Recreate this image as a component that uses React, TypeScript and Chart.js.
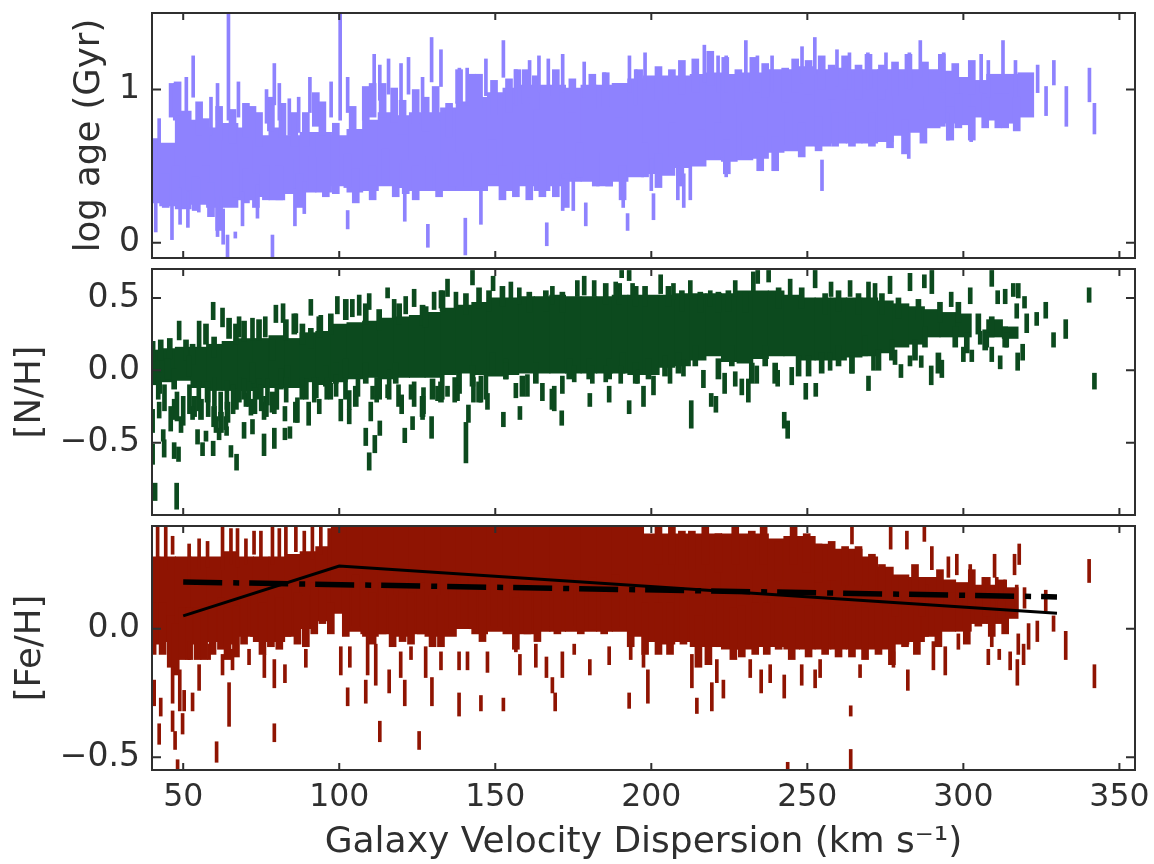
import React, { useEffect, useRef } from "react";
import { Chart, registerables } from "chart.js";

Chart.register(...registerables);

const xTicks = [50, 100, 150, 200, 250, 300, 350];
const ageTicks = [0, 1];
const ageLabels = ["0", "1"];
const nitrogenTicks = [-0.5, 0, 0.5];
const nitrogenLabels = ["\u22120.5", "0.0", "0.5"];
const ironTicks = [-0.5, 0];
const ironLabels = ["\u22120.5", "0.0"];
const xTitle = "Galaxy Velocity Dispersion (km s\u207B\u00B9)";

// dense bulk of the galaxies: [sigma, low, high]
const ageBulk = [[40,.26,.68],[45,.24,.65],[50,.22,.86],[55,.25,.8],[60,.23,.75],[65,.23,.78],[70,.28,.75],[75,.3,.7],[80,.28,.75],[85,.32,.7],[90,.33,.72],[95,.33,.72],[100,.37,.7],[105,.33,.74],[110,.34,.8],[115,.37,.85],[120,.36,.83],[125,.34,.85],[130,.34,.85],[135,.34,.88],[140,.34,.92],[145,.34,.95],[150,.37,.98],[155,.34,1.01],[160,.37,1.03],[165,.34,1.03],[170,.37,1.03],[175,.4,1.01],[180,.4,1.03],[185,.37,1.03],[190,.4,1.04],[195,.43,1.07],[200,.45,1.09],[205,.44,1.09],[210,.49,1.09],[215,.5,1.1],[220,.54,1.11],[225,.53,1.1],[230,.54,1.11],[235,.55,1.11],[240,.59,1.13],[245,.6,1.13],[250,.63,1.15],[255,.63,1.13],[260,.65,1.14],[265,.65,1.13],[270,.65,1.13],[275,.66,1.13],[280,.7,1.13],[285,.72,1.13],[290,.75,1.13],[295,.78,1.12],[300,.77,1.08],[305,.82,1.06],[310,.8,1.1],[315,.78,1.1],[320,.82,1.11]];
const ironBulk = [[40,-.06,.28],[45,-.05,.28],[50,-.1,.28],[55,-.06,.28],[60,-.05,.28],[65,-.06,.3],[70,-.03,.28],[75,-.05,.28],[80,-.05,.28],[85,-.03,.29],[90,0,.3],[95,.03,.32],[100,.06,.4],[105,-.01,.4],[110,-.03,.4],[115,-.02,.4],[120,-.03,.4],[125,-.02,.4],[130,-.03,.4],[135,-.03,.4],[140,0,.4],[145,-.02,.4],[150,-.01,.4],[155,-.02,.4],[160,-.02,.4],[165,-.01,.4],[170,-.01,.4],[175,-.01,.4],[180,-.01,.4],[185,-.01,.4],[190,-.01,.4],[195,-.03,.4],[200,-.05,.37],[205,-.06,.37],[210,-.05,.37],[215,-.07,.37],[220,-.07,.37],[225,-.08,.37],[230,-.08,.37],[235,-.07,.37],[240,-.07,.35],[245,-.08,.36],[250,-.08,.36],[255,-.08,.33],[260,-.08,.31],[265,-.08,.31],[270,-.08,.28],[275,-.08,.24],[280,-.06,.21],[285,-.05,.2],[290,-.03,.2],[295,-.01,.19],[300,-.01,.18],[305,.02,.17],[310,.02,.17],[315,.04,.16]];
const nitrogenBulk = [[40,-.1,.14],[45,-.08,.15],[50,-.07,.16],[55,-.12,.16],[60,-.14,.18],[65,-.14,.2],[70,-.14,.22],[75,-.12,.22],[80,-.12,.24],[85,-.12,.22],[90,-.08,.26],[95,-.1,.27],[100,-.08,.32],[105,-.06,.33],[110,-.05,.34],[115,-.06,.36],[120,-.05,.37],[125,-.05,.38],[130,-.05,.4],[135,-.03,.43],[140,-.02,.45],[145,-.03,.47],[150,-.04,.5],[155,-.03,.5],[160,-.02,.51],[165,-.02,.51],[170,-.02,.52],[175,-.02,.51],[180,-.02,.51],[185,-.02,.51],[190,-.02,.52],[195,-.03,.52],[200,-.03,.52],[205,.02,.52],[210,.03,.53],[215,.07,.53],[220,.1,.53],[225,.06,.53],[230,.05,.55],[235,.08,.55],[240,.1,.55],[245,.1,.52],[250,.07,.5],[255,.07,.5],[260,.07,.5],[265,.09,.5],[270,.1,.5],[275,.12,.48],[280,.16,.46],[285,.18,.44],[290,.23,.42],[295,.23,.4],[300,.23,.39],[310,.23,.35],[315,.22,.3]];

// jagged rim of the bulk: [sigma, low, high]
const ageRim = [[46.6,.82,1.04],[48.2,.83,1.05],[55.1,.7,.92],[57.3,.59,.81],[61.5,.67,.89],[65.8,.65,.87],[70.1,.69,.91],[72.2,.67,.89],[74.3,.63,.85],[78.1,.73,.95],[81.8,.69,.91],[85.6,.63,.85],[89.3,.63,.85],[92.5,.76,.98],[94.6,.7,.92],[98.9,.56,.78],[104.3,.67,.89],[108.5,.8,1.02],[110.7,.82,1.04],[113.9,.82,1.04],[117.6,.79,1.01],[120.3,.71,.93],[124.5,.78,1],[127.7,.73,.95],[130.9,.8,1.02],[135.2,.69,.91],[138.4,.91,1.13],[142.7,.88,1.1],[144.8,.88,1.1],[149.6,.84,1.06],[154.4,.85,1.07],[157.1,.91,1.13],[159.8,.91,1.13],[163,.87,1.09],[169.4,.91,1.13],[174.7,.85,1.07],[181.1,.88,1.1],[185.4,.89,1.11],[189.7,.82,1.04],[196.1,.91,1.13],[202.3,.93,1.15],[206.6,.91,1.13],[209.8,.97,1.19],[214.1,.98,1.2],[218.9,1.03,1.25],[223.7,.99,1.21],[227.9,.91,1.13],[232.7,.99,1.21],[236.5,.95,1.17],[242.9,.92,1.14],[246.1,.98,1.2],[250.4,.97,1.19],[254.6,1,1.22],[257.8,.94,1.16],[262.1,1,1.22],[266.4,.94,1.16],[269.6,1.01,1.23],[273.9,.94,1.16],[278.1,.96,1.18],[282.4,1.01,1.23],[287.7,.96,1.18],[293.1,1.01,1.23],[297.4,.95,1.17],[302.7,.97,1.19],[44.4,.23,.45],[47.6,.28,.5],[51.9,.34,.56],[54,.21,.43],[57.3,.28,.5],[58.9,.17,.39],[61.5,.08,.3],[66.9,.3,.52],[70.1,.26,.48],[73.3,.23,.45],[76.5,.28,.5],[80.8,.28,.5],[84,.32,.54],[87.2,.23,.45],[91.4,.34,.56],[95.7,.3,.52],[98.9,.32,.54],[102.6,.36,.58],[105.3,.26,.48],[110.7,.28,.5],[114.9,.39,.61],[118.1,.3,.52],[121.3,.32,.54],[124.5,.28,.5],[128.8,.34,.56],[132,.3,.52],[136.3,.37,.59],[141.1,.37,.59],[145.9,.37,.59],[149.1,.45,.67],[152.3,.28,.5],[156.6,.3,.52],[160.9,.28,.5],[165.1,.3,.52],[169.4,.3,.52],[172.6,.23,.45],[176.9,.43,.65],[182.2,.37,.59],[186.5,.37,.59],[190.8,.28,.5],[198,.43,.65],[202.3,.36,.58],[206.6,.56,.78],[209.3,.37,.59],[216.2,.52,.74],[221.5,.56,.78],[224.2,.45,.67],[230,.57,.79],[234.9,.47,.69],[239.7,.47,.69],[244,.64,.86],[248.2,.56,.78],[253.6,.6,.82],[258.9,.63,.85],[264.3,.63,.85],[270.7,.63,.85],[276.5,.62,.84],[281.3,.58,.8],[287.2,.65,.87],[293.1,.76,.98],[295.8,.67,.89],[298.4,.75,.97],[302.7,.67,.89],[307,.75,.97],[311.2,.75,.97],[313.4,.75,.97],[317.1,.73,.95]];
const ironRim = [[40.2,-.1,.1],[43.4,-.1,.1],[46,-.15,.05],[47.6,-.18,.02],[49.8,-.12,.08],[51.9,-.12,.08],[54.6,-.12,.08],[56.7,-.12,.08],[59.4,-.1,.1],[62.1,-.08,.12],[64.2,-.12,.08],[66.9,-.11,.09],[69.5,-.06,.14],[72.7,-.03,.17],[75.4,-.1,.1],[78.1,-.07,.13],[80.8,-.08,.12],[83.4,-.03,.17],[86.6,-.06,.14],[89.3,-.07,.13],[92,-.02,.18],[94.6,.02,.22],[97.3,-.02,.1],[102.1,-.03,.17],[105.3,.01,.21],[108,-.02,.18],[110.7,-.06,.14],[113.9,-.02,.18],[117.1,-.07,.13],[120.3,-.05,.15],[123,-.06,.14],[126.1,-.02,.18],[129.9,-.07,.13],[132.6,-.07,.13],[136.3,0,.2],[140,.01,.21],[142.7,0,.2],[145.9,-.05,.15],[149.6,.01,.21],[153.4,.01,.21],[156.6,-.08,.12],[160.3,-.02,.18],[163.5,-.05,.15],[166.2,.01,.21],[169.9,-.02,.18],[173.7,.01,.21],[177.4,-.02,.18],[181.1,0,.2],[184.9,-.02,.18],[188.6,.01,.21],[193.4,-.07,.13],[198,-.1,.1],[202.3,-.1,.1],[206,-.1,.1],[210.3,-.06,.14],[215.1,-.15,.05],[218.3,-.14,.06],[222,-.07,.13],[226.3,-.12,.08],[229,-.11,.09],[233.3,-.1,.1],[237,-.1,.1],[240.8,-.08,.12],[245,-.12,.08],[250.4,-.11,.09],[255.7,-.1,.1],[260,-.11,.09],[264.3,-.11,.09],[268.5,-.12,.08],[272.8,-.1,.1],[277.1,-.14,.06],[281.3,-.07,.13],[285.1,-.1,.1],[287.7,-.03,.17],[292,-.07,.13],[296.3,.01,.14],[301.1,-.06,.14],[304.8,.01,.14],[309.1,-.03,.14],[313.4,-.02,.14],[202.3,.25,.4],[206.6,.25,.4],[209.8,.23,.38],[213,.23,.38],[217.3,.25,.4],[221.5,.22,.37],[226.9,.25,.4],[232.2,.23,.38],[236,.25,.4],[240.8,.19,.34],[245.6,.25,.4],[249.8,.22,.37],[253.6,.18,.33],[257.8,.19,.34],[262.1,.17,.32],[266.4,.17,.32],[270.7,.14,.29],[273.9,.1,.25],[278.1,.05,.2],[284.5,.1,.25],[286.7,.05,.2],[292.5,.08,.23],[302.7,.08,.23],[307.5,.05,.2],[312.3,.04,.19]];
const nitrogenRim = [[40.2,.06,.2],[42.8,.07,.21],[45.7,.08,.22],[50.9,.07,.21],[53,.04,.18],[57.3,.18,.32],[59.9,.09,.23],[64.7,.22,.36],[66.9,.18,.32],[69.5,.2,.34],[74.3,.21,.35],[78.6,.07,.21],[82.9,.21,.35],[85.6,.25,.39],[88.2,.18,.32],[90.9,.15,.29],[93.6,.23,.37],[97.3,.25,.39],[102.1,.35,.49],[108.5,.32,.46],[112.8,.28,.42],[119.2,.32,.46],[126.7,.31,.45],[127.7,.3,.44],[133.1,.41,.55],[140.6,.39,.53],[144.8,.43,.57],[148,.41,.55],[152.3,.44,.58],[160.9,.4,.54],[166.2,.41,.55],[171.5,.4,.54],[185.4,.46,.6],[189.7,.46,.6],[195,.44,.58],[42.3,-.16,-.02],[45,-.06,.08],[47.1,-.13,.01],[51.9,-.04,.1],[53.5,-.32,-.18],[55.7,-.34,-.2],[57.8,-.22,-.08],[59.9,-.39,-.25],[62.1,-.43,-.29],[64.2,-.36,-.22],[66.9,-.27,-.13],[69.5,-.2,-.06],[72.2,-.09,.05],[74.3,-.2,-.06],[76.5,-.32,-.18],[78.6,-.29,-.15],[81.3,-.13,.01],[83.4,-.11,.03],[86.1,-.36,-.22],[89.3,-.2,-.06],[92.5,-.19,-.05],[95.7,-.11,.03],[98.9,-.09,.05],[102.1,-.06,.08],[105.3,-.25,-.11],[108.5,-.09,.05],[112.8,-.2,-.06],[118.1,-.09,.05],[126.7,-.32,-.18],[129.9,-.2,-.06],[132.6,-.22,-.08],[138.4,-.16,-.02],[142.7,-.11,.03],[144.8,-.22,-.08],[149.1,-.02,.12],[153.4,-.06,.08],[158.7,-.18,-.04],[163,-.09,.05],[168.3,-.27,-.13],[173.7,-.06,.08],[180.1,-.06,.08],[186.5,-.06,.08],[190.8,-.02,.12],[195,-.09,.05],[198,.44,.58],[205.5,.44,.58],[209.8,.41,.55],[215.7,.4,.54],[221.5,.4,.54],[224.7,.41,.55],[230.1,.4,.54],[240.8,.43,.57],[248.2,.43,.57],[255.7,.39,.53],[260,.41,.55],[266.4,.39,.53],[273.9,.39,.53],[279.2,.36,.5],[285.6,.35,.49],[292.5,.33,.47],[298.4,.33,.47],[304.8,.25,.39],[309.1,.23,.37],[199.1,-.06,.08],[204.4,-.04,.1],[208.7,-.02,.12],[214.1,.03,.17],[221.5,-.06,.08],[225.8,.03,.17],[232.2,-.09,.05],[236.5,.03,.17],[239.7,-.09,.05],[247.2,-.04,.1],[250.4,-.04,.1],[254.6,-.02,.12],[260,.03,.17],[264.3,-.02,.12],[268.5,.1,.24],[272.8,0,.14],[277.1,.07,.21],[284.5,.07,.21],[287.7,.16,.3],[292,-.02,.12],[297.4,.16,.3],[301.1,.12,.26],[307,.14,.28],[313.4,.16,.3]];

// individually legible error bars: [sigma, low, high]
const ageBars = [[64.5,.8,1.6],[100.3,.8,1.6],[53.2,.95,1.22],[51,.85,1.08],[47.3,.8,1.04],[42.3,.55,.81],[61,.8,1.04],[67.7,.82,1.05],[58.9,.7,.95],[79.2,.9,1.17],[76.7,.78,1],[80.8,.8,1.04],[84,.7,.94],[87,.72,.95],[90.6,.85,1.08],[97.4,.82,1.05],[102.7,.85,1.08],[111.2,1,1.23],[115.8,.97,1.2],[113,.93,1.16],[119.8,.93,1.17],[122.2,.97,1.21],[126.7,.85,1.08],[129.6,1.05,1.34],[132.6,1.02,1.26],[138.5,.9,1.14],[141,.9,1.14],[147,.96,1.2],[152.6,1.08,1.32],[156.6,.9,1.13],[161,.95,1.19],[164,.98,1.22],[167,.96,1.2],[171.6,.98,1.23],[178.5,.95,1.18],[185,.88,1.11],[193,.98,1.22],[195,.9,1.13],[198,1,1.24],[217,1.05,1.29],[221.4,.98,1.22],[224,.98,1.22],[230.3,1.08,1.32],[234,.98,1.22],[238.7,.98,1.22],[248.3,1.04,1.28],[252.4,1.1,1.34],[259.5,1.02,1.26],[263.5,1,1.24],[269.4,1,1.24],[275.2,1,1.24],[282.7,1,1.24],[286.2,1.08,1.32],[293.7,1,1.24],[305.7,.98,1.23],[308,.95,1.19],[312.7,1.08,1.32],[316.7,.95,1.19],[323.8,.98,1.16],[329,1.03,1.19],[326.5,.83,1.02],[333,.76,1.02],[340.4,.92,1.14],[342,.71,.91],[41.2,.07,.3],[46.4,.02,.25],[49,.12,.36],[51.5,.1,.33],[55,.2,.42],[61,.04,.3],[62.8,-.01,.22],[64.2,-.11,.05],[66.7,.03,.07],[78.6,-.11,.05],[69,.11,.33],[73.8,.16,.38],[85.8,.11,.35],[88.8,.19,.4],[102.7,.09,.21],[121,.14,.33],[128.4,-.03,.12],[140.4,-.08,.16],[145.4,.12,.35],[166.5,-.02,.13],[179,.11,.26],[192.4,.08,.19],[171.6,.21,.42],[175,.21,.42],[191,.23,.42],[200.7,.15,.32],[210.4,.23,.45],[212.5,.28,.5],[208.5,.28,.5],[200,.34,.55],[224,.43,.6],[254.7,.34,.54],[282.5,.55,.72],[295,.67,.85],[302.5,.66,.85]];
const nitrogenBars = [[41,-.9,-.78],[47.9,-.96,-.78],[40.2,-.65,-.51],[43.9,-.6,-.48],[48.5,-.63,-.53],[47.1,-.61,-.5],[56.2,-.59,-.5],[59.6,-.59,-.49],[65.3,-.6,-.52],[67.1,-.69,-.58],[75.9,-.59,-.44],[79.2,-.54,-.4],[82.6,-.48,-.4],[84.2,-.47,-.39],[69.5,-.47,-.36],[72.2,-.44,-.34],[54.6,-.51,-.41],[57.3,-.49,-.42],[61.5,-.48,-.4],[63.9,-.45,-.39],[109.6,-.69,-.57],[108.5,-.52,-.4],[111.4,-.57,-.45],[113,-.45,-.35],[121,-.5,-.4],[123.5,-.41,-.32],[129.6,-.47,-.32],[140.6,-.64,-.36],[141.4,-.36,-.24],[152.6,-.39,-.29],[157.9,-.34,-.25],[171.3,-.38,-.28],[180.3,-.25,-.16],[186.5,-.22,-.11],[192.9,-.3,-.21],[100.5,-.35,-.2],[103.2,-.37,-.27],[110.1,-.35,-.22],[120,-.3,-.17],[86.6,-.36,-.19],[90.2,-.38,-.22],[93.6,-.3,-.2],[82.6,-.35,-.25],[71.7,-.31,-.2],[75.9,-.34,-.22],[79.2,-.3,-.2],[42.3,-.33,-.22],[40.2,-.43,-.27],[43.6,-.49,-.41],[47.1,-.34,-.2],[49.3,-.43,-.32],[53,-.34,-.25],[60.5,-.43,-.32],[63.7,-.41,-.32],[70.1,-.25,-.16],[52,-.3,-.1],[55,-.28,-.08],[58,-.32,-.12],[60,-.25,-.05],[62,-.35,-.15],[64,-.27,-.07],[66,-.3,-.1],[68,-.22,-.05],[71,-.25,-.08],[73,-.3,-.12],[75,-.28,-.1],[77,-.24,-.06],[80,-.27,-.1],[83,-.22,-.05],[46,-.42,-.25],[48,-.35,-.15],[50,-.38,-.18],[44,-.28,-.1],[42,-.2,-.05],[88,-.2,-.05],[92,-.22,-.05],[96,-.2,-.05],[99,-.18,-.03],[102,-.2,-.05],[106,-.18,-.03],[112,-.22,-.05],[116,-.2,0],[119,-.25,-.1],[124,-.25,-.08],[127,-.3,-.12],[133,-.2,-.03],[137,-.22,-.05],[143,-.22,-.05],[147,-.2,-.02],[97.3,-.2,-.09],[103.2,-.27,-.14],[110.7,-.2,-.11],[115.5,-.19,-.1],[123,-.2,-.1],[126.7,-.34,-.2],[131.5,-.21,-.11],[134.7,-.18,-.11],[137.9,-.21,-.11],[145.4,-.22,-.04],[147.5,-.27,-.16],[153.4,-.06,.05],[156.6,-.19,-.09],[160.3,-.18,-.03],[165.1,-.21,-.09],[168.9,-.28,-.11],[171.5,-.16,-.04],[175.3,-.08,.03],[181.1,-.09,.03],[185.4,-.08,.03],[190.2,-.09,.03],[195.6,-.09,0],[48.7,.21,.34],[59.6,.35,.47],[55.1,.16,.34],[62.6,.3,.43],[67.9,.23,.37],[72.2,.21,.36],[79.7,.33,.45],[82,.33,.46],[76.3,.23,.37],[90.9,.38,.49],[86.1,.26,.39],[94.1,.26,.38],[99.4,.39,.51],[104.2,.37,.49],[109.6,.42,.53],[106.4,.38,.52],[115.5,.5,.57],[117.6,.36,.49],[124,.44,.56],[121.3,.39,.51],[134.7,.51,.63],[130.4,.42,.54],[132.6,.43,.55],[142.7,.59,.69],[137.4,.42,.54],[149.3,.55,.65],[155,.5,.61],[157.7,.46,.57],[168.3,.46,.58],[176.3,.51,.62],[178.5,.52,.65],[181.7,.51,.62],[188.6,.49,.61],[190.5,.64,.69],[192.9,.62,.69],[194,.49,.6],[203,.53,.66],[207.1,.49,.6],[212.5,.5,.62],[218.9,.44,.55],[226.9,.51,.62],[232.7,.55,.68],[234.1,.6,.69],[237.6,.61,.69],[244.5,.52,.63],[252.5,.57,.69],[257.6,.51,.61],[263.7,.51,.62],[269.6,.5,.61],[271.7,.49,.6],[276.5,.53,.65],[282.9,.55,.67],[287.5,.57,.66],[289.9,.53,.69],[296.1,.44,.54],[302.2,.46,.57],[309.1,.58,.69],[311,.46,.55],[313.4,.46,.56],[316,.51,.6],[317.6,.5,.6],[319.6,.43,.51],[317.1,.36,.46],[320.3,.26,.39],[323.5,.31,.4],[326.4,.36,.47],[332.8,.22,.35],[340.3,.47,.57],[328.9,.16,.26],[342,-.13,-.02],[197.5,-.25,-.11],[200.7,-.17,-.04],[206,-.09,.03],[210.3,-.04,.07],[216.7,-.12,0],[223.5,-.16,-.02],[226.9,-.11,-.01],[229,-.17,-.06],[231.1,-.22,-.06],[212.8,-.4,-.21],[219.2,-.25,-.16],[220.7,-.29,-.18],[233.8,-.09,.03],[240.5,-.11,0],[245,-.1,.02],[249.5,-.2,-.09],[252.7,-.18,-.09],[242.6,-.4,-.29],[243.7,-.47,-.35],[269.6,-.14,-.04],[264.3,-.02,.1],[271.2,0,.1],[257.3,0,.12],[280,-.05,.04],[282.9,.03,.1],[286.5,.02,.1],[289.7,-.1,.03],[293.1,-.05,.07],[300,.06,.16],[302.7,.06,.14],[309.1,.06,.16],[311.8,.01,.1],[317.4,0,.12],[319,.07,.18],[313.9,.16,.26],[307.5,.16,.26],[305.4,.18,.27],[278.1,.04,.14]];
const ironBars = [[40.7,-.3,-.2],[42.8,-.34,-.27],[42.3,-.45,-.37],[46.6,-.4,-.32],[47.4,-.47,-.4],[48.2,-.55,-.51],[49.8,-.41,-.33],[46.6,-.29,-.15],[48.9,-.32,-.16],[50.3,-.32,-.24],[53,-.32,-.25],[55.1,-.24,-.14],[60.7,-.52,-.44],[64.7,-.38,-.21],[79.2,-.44,-.37],[79.2,-.23,-.12],[82.6,-.21,-.14],[76,-.19,-.1],[71.1,-.14,-.08],[65.8,-.16,-.08],[62.6,-.18,-.1],[58.3,-.12,-.06],[51.9,-.12,-.05],[89.3,-.15,-.08],[100.5,-.18,-.07],[103.4,-.15,-.07],[102.7,-.3,-.23],[108.5,-.29,-.2],[113,-.44,-.36],[116,-.25,-.16],[121,-.3,-.2],[125.6,-.47,-.4],[129.7,-.3,-.19],[138.4,-.34,-.25],[145.4,-.32,-.26],[152.6,-.32,-.27],[169.2,-.32,-.25],[168.3,-.25,-.19],[166.4,-.19,-.11],[171.5,-.19,-.09],[157.9,-.18,-.1],[180.3,-.18,-.12],[192.9,-.31,-.25],[147.5,-.17,-.09],[138.4,-.16,-.09],[141.1,-.16,-.09],[132.6,-.16,-.09],[127.7,-.19,-.07],[123,-.12,-.07],[119.7,-.19,-.09],[111.7,-.22,-.06],[109.1,-.18,-.01],[163,-.15,-.06],[186.5,-.14,-.07],[193.4,-.12,-.07],[175.3,-.1,-.06],[156.6,-.09,-.03],[41.8,.27,.4],[44.4,.23,.4],[46.6,.29,.36],[51.9,.16,.33],[55.1,.23,.35],[57.8,.24,.34],[62.6,.23,.4],[65.3,.25,.39],[67.4,.24,.39],[70.1,.25,.35],[72.7,.29,.38],[74.9,.27,.38],[78.6,.25,.4],[80.8,.28,.39],[82.9,.29,.4],[86.1,.3,.4],[88.8,.29,.38],[91.4,.27,.4],[94.1,.29,.4],[96.8,.23,.39],[198.9,-.29,-.16],[197.5,-.15,-.1],[213,-.23,-.1],[214.6,-.33,-.27],[219.4,-.32,-.21],[223.1,-.27,-.2],[221,-.21,-.12],[231.7,-.19,-.12],[235.2,-.25,-.16],[238.1,-.21,-.14],[242.6,-.27,-.18],[248.2,-.22,-.14],[252.5,-.23,-.16],[254.1,-.19,-.12],[263.9,-.34,-.3],[263.9,-.55,-.47],[243.7,-.55,-.52],[266.9,-.19,-.14],[282.2,-.24,-.16],[277.6,-.15,-.09],[290.4,-.16,-.05],[294.2,-.18,-.07],[308,-.14,-.08],[311.5,-.12,-.08],[315,-.16,-.09],[317.3,-.22,-.12],[319.3,-.14,-.06],[320.9,-.08,.02],[323.7,-.05,.03],[328.9,-.01,.05],[332.8,-.12,-.01],[342,-.23,-.14],[317.6,-.1,-.02],[309.1,-.07,.01],[298.4,-.08,-.02],[340.3,.18,.27],[317.9,.25,.33],[316.4,.21,.29],[297.9,.21,.29],[295.2,.2,.28],[289.9,.23,.32],[310,.2,.29],[302.2,.16,.25],[306.4,.12,.2],[310.7,.11,.2],[313.4,.11,.19],[317.1,.07,.17],[319.6,.08,.16],[326.4,.07,.15],[287.5,.34,.4],[281.9,.31,.38],[276.7,.31,.4],[264.3,.33,.4]];

const solidFitX = [50, 100, 330];
const solidFitY = [0.05, 0.244, 0.06];
const dashFitX = [50, 330];
const dashFitY = [0.182, 0.124];

const INK = "#2f2f2f";
const FONT = "'DejaVu Sans'";

const frameTicks = {
  id: "frameTicks",
  afterDatasetsDraw(chart: any) {
    const { ctx, chartArea: a, scales } = chart;
    ctx.save();
    ctx.strokeStyle = INK;
    ctx.lineWidth = 2;
    ctx.strokeRect(a.left, a.top, a.right - a.left, a.bottom - a.top);
    ctx.beginPath();
    for (const t of scales.x.ticks) {
      const p = scales.x.getPixelForValue(t.value);
      ctx.moveTo(p, a.top); ctx.lineTo(p, a.top + 7);
      ctx.moveTo(p, a.bottom); ctx.lineTo(p, a.bottom - 7);
    }
    for (const t of scales.y.ticks) {
      const p = scales.y.getPixelForValue(t.value);
      ctx.moveTo(a.left, p); ctx.lineTo(a.left + 9, p);
      ctx.moveTo(a.right, p); ctx.lineTo(a.right - 9, p);
    }
    ctx.stroke();
    ctx.restore();
  },
};

function zeroPadding(s: any) {
  s.paddingLeft = 0;
  s.paddingRight = 0;
  s.paddingTop = 0;
  s.paddingBottom = 0;
}

function makeBars(rows: number[][], color: string, thickness: number, order: number) {
  return {
    type: "bar",
    data: rows.map(([x, lo, hi]) => ({ x, y: [lo, hi] })),
    backgroundColor: color,
    barThickness: thickness,
    grouped: false,
    order,
  };
}

function makeLine(xs: number[], ys: number[], width: number, dash: number[]) {
  return {
    type: "line",
    data: xs.map((x, i) => ({ x, y: ys[i] })),
    borderColor: "#000000",
    borderWidth: width,
    borderDash: dash,
    pointRadius: 0,
    tension: 0,
    order: 0,
  };
}

function Panel(props: any) {
  const ref = useRef<HTMLCanvasElement>(null);
  useEffect(() => {
    const { color, bulk, rim, rimWidth, bars, barWidth, lines, yMin, yMax, yTicks, yLabels, yTitle, titlePad, padTop, padBottom, showX } = props;
    const chart = new Chart(ref.current as any, {
      type: "bar",
      data: {
        datasets: [
          ...(lines || []),
          makeBars(bars, color, barWidth, 1),
          makeBars(rim, color, rimWidth, 2),
          makeBars(bulk, color, 16, 3),
        ],
      },
      plugins: [frameTicks],
      options: {
        animation: false,
        responsive: false,
        events: [],
        layout: { padding: { left: 0, right: 19, top: padTop, bottom: padBottom } },
        plugins: { legend: { display: false }, tooltip: { enabled: false } },
        scales: {
          x: {
            type: "linear",
            offset: false,
            min: 40,
            max: 355,
            grid: { display: false, drawTicks: false },
            border: { display: false },
            afterBuildTicks: (s: any) => { s.ticks = xTicks.map((value) => ({ value })); },
            afterFit: (s: any) => { s.height = showX ? 94 : 0; zeroPadding(s); },
            ticks: {
              display: !!showX,
              autoSkip: false,
              maxRotation: 0,
              minRotation: 0,
              padding: 9,
              color: INK,
              font: { family: FONT, size: 31.5 },
              callback: (v: any) => String(v),
            },
            title: {
              display: !!showX,
              text: xTitle,
              color: INK,
              font: { family: FONT, size: 36 },
              padding: { top: 0, bottom: 0 },
            },
          },
          y: {
            min: yMin,
            max: yMax,
            grid: { display: false, drawTicks: false },
            border: { display: false },
            afterBuildTicks: (s: any) => { s.ticks = yTicks.map((value: number) => ({ value })); },
            afterFit: (s: any) => { s.width = 152; zeroPadding(s); },
            ticks: {
              autoSkip: false,
              padding: 12,
              color: INK,
              font: { family: FONT, size: 33 },
              callback: (v: any) => yLabels[yTicks.indexOf(v)] ?? "",
            },
            title: {
              display: true,
              text: yTitle,
              color: INK,
              font: { family: FONT, size: 35.5 },
              padding: { top: titlePad, bottom: 0 },
            },
          },
        },
      },
    } as any);
    return () => chart.destroy();
  }, []);
  return (
    <canvas
      ref={ref}
      width={1154}
      height={props.height}
      style={{ position: "absolute", left: 0, top: props.top, width: 1154, height: props.height, filter: "blur(0.6px)" }}
    />
  );
}

export default function App() {
  return (
    <div style={{ position: "absolute", left: 0, top: 0, width: 1154, height: 864, overflow: "hidden", background: "#fff" }}>
      <Panel top={0} height={264} padTop={13} padBottom={6} color="#8e82fe" bulk={ageBulk} rim={ageRim} rimWidth={7} bars={ageBars} barWidth={3}
        yMin={-0.1} yMax={1.5} yTicks={ageTicks} yLabels={ageLabels} yTitle="log age (Gyr)" titlePad={68} />
      <Panel top={264} height={256} padTop={5} padBottom={5} color="#0c4a1e" bulk={nitrogenBulk} rim={nitrogenRim} rimWidth={5} bars={nitrogenBars} barWidth={4}
        yMin={-1} yMax={0.7} yTicks={nitrogenTicks} yLabels={nitrogenLabels} yTitle="[N/H]" titlePad={9} />
      <Panel top={520} height={344} padTop={6} padBottom={0} color="#8f1402" bulk={ironBulk} rim={ironRim} rimWidth={7} bars={ironBars} barWidth={3}
        yMin={-0.55} yMax={0.4} yTicks={ironTicks} yLabels={ironLabels} yTitle="[Fe/H]" titlePad={9} showX
        lines={[makeLine(solidFitX, solidFitY, 3, []), makeLine(dashFitX, dashFitY, 5.5, [39, 11, 6, 10])]} />
    </div>
  );
}
